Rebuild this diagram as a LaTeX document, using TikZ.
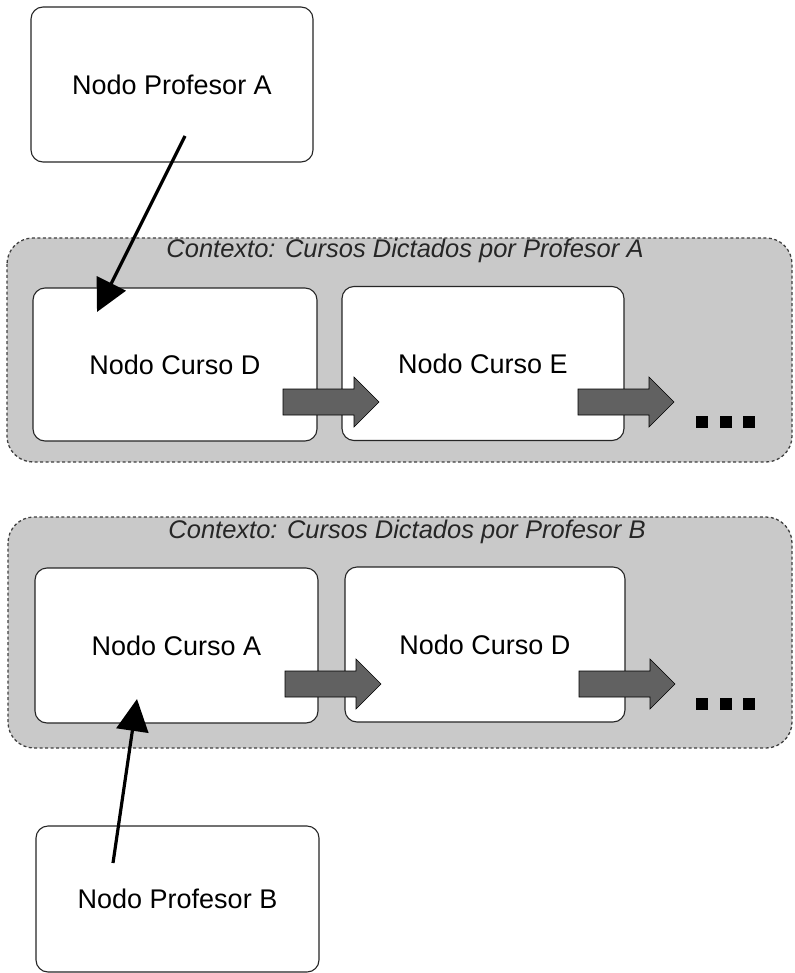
\documentclass[tikz,border=0pt]{standalone}
\usepackage{fontspec}
\setmainfont{Liberation Sans}
\usetikzlibrary{arrows.meta,calc}
\tikzset{
  nodebox/.style={draw=black!85, line width=1.1pt, rounded corners=12pt, fill=white, font=\fontsize{27}{30}\selectfont},
  ctxbox/.style={draw=black!75, line width=1.3pt, dash pattern=on 3pt off 2.5pt, rounded corners=26pt, fill=black!21},
  ctxtitle/.style={font=\fontsize{25.5}{28}\selectfont\itshape, text=black!85},
  arrowfill/.style={fill=black!62, draw=black, line width=0.6pt},
  refarrow/.style={line width=3.2pt, -{Triangle[length=32pt,width=32pt]}},
  dotsq/.style={fill=black, draw=none}
}
\newcommand{\blockarrow}[2]{%
  \filldraw[arrowfill] ($(#1,#2)+(0,-13)$) -- ++(71,0) -- ++(0,-12) -- ($(#1,#2)+(96,0)$) -- ($(#1,#2)+(71,25)$) -- ++(0,-12) -- ($(#1,#2)+(0,13)$) -- cycle;}
\begin{document}
\begin{tikzpicture}[x=1pt,y=-1pt]
\useasboundingbox (0,0) rectangle (794,973);
% contexts
\draw[ctxbox] (7,238) rectangle (792,462);
\node[ctxtitle] (tA) at (405,251) {Contexto: Cursos Dictados por Profesor A};
\draw[ctxbox] (8,517) rectangle (792,748);
\node[ctxtitle] (tB) at (407,532) {Contexto: Cursos Dictados por Profesor B};
% professor nodes
\node[nodebox, minimum width=282pt, minimum height=155pt] (profA) at (172,84.5) {Nodo Profesor A};
\node[nodebox, minimum width=283pt, minimum height=146pt] (profB) at (177.5,899) {Nodo Profesor B};
% course nodes
\node[nodebox, minimum width=284pt, minimum height=153pt] (cD) at (175,364.5) {Nodo Curso D};
\node[nodebox, minimum width=282pt, minimum height=154pt] (cE) at (483,363.5) {Nodo Curso E};
\node[nodebox, minimum width=283pt, minimum height=155pt] (cA) at (176.5,645.5) {Nodo Curso A};
\node[nodebox, minimum width=280pt, minimum height=155pt] (cD2) at (485,644.5) {Nodo Curso D};
% block arrows
\blockarrow{283}{402}
\blockarrow{578}{402}
\blockarrow{285}{684}
\blockarrow{579}{684}
% dots
\foreach \x in {696,720,743}{
  \fill[dotsq] (\x,416) rectangle ++(12,12);
  \fill[dotsq] (\x,698) rectangle ++(12,12);
}
% reference arrows
\coordinate (aTail) at (185,136);
\coordinate (aTip) at (97,312);
\coordinate (bTail) at (113,863);
\coordinate (bTip) at (137,699);
\draw[refarrow] (aTail) -- (aTip);
\draw[refarrow] (bTail) -- (bTip);
\end{tikzpicture}
\end{document}
